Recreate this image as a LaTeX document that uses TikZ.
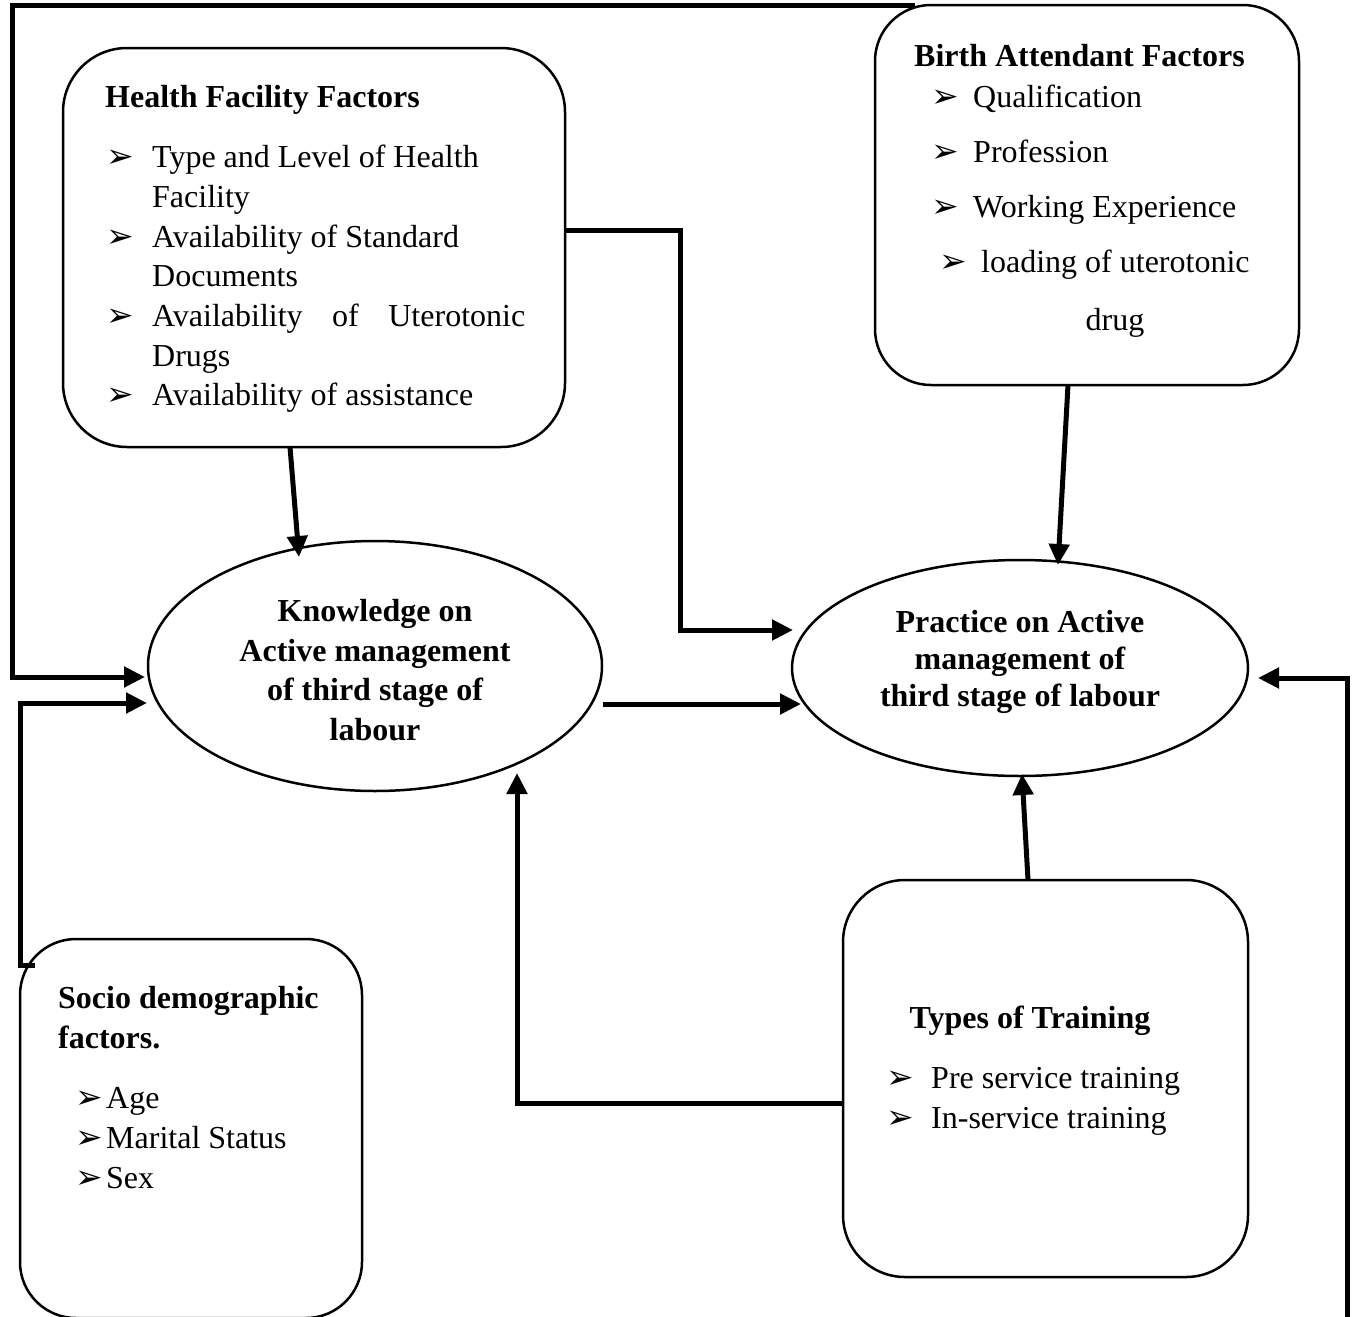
\documentclass[tikz,border=0pt]{standalone}
\usepackage{fontspec}
\setmainfont{Liberation Serif}
\newfontfamily\symfont{DejaVu Sans}
\usetikzlibrary{shapes.geometric,arrows.meta,calc}
\tikzset{
  box/.style={draw, line width=2.5pt, inner sep=0pt, outer sep=0pt, rounded corners=#1},
  box/.default=60pt,
  ell/.style={draw, ellipse, line width=2.5pt, inner sep=0pt, outer sep=0pt},
  conn/.style={line width=5pt, -{Triangle[length=21pt,width=20pt]}},
  txt/.style={anchor=base west, inner sep=0pt, font=\fontsize{32}{40}\selectfont},
  ttl/.style={txt, font=\fontsize{32}{40}\selectfont\bfseries},
  ctr/.style={anchor=base, inner sep=0pt, font=\fontsize{32}{40}\selectfont\bfseries},
  bul/.style={anchor=base west, inner sep=0pt, font=\symfont\bfseries\fontsize{33}{33}\selectfont},
}
\begin{document}
\begin{tikzpicture}[x=1pt,y=-1pt]
\clip (0,0) rectangle (1352,1317);
\fill[white] (0,0) rectangle (1352,1317);

% boxes and ellipses
\node[box=64pt, minimum width=502pt, minimum height=399pt] (hf) at (314,247.5) {};
\node[box=56pt, minimum width=424pt, minimum height=380pt] (ba) at (1087,195) {};
\node[ell, minimum width=454pt, minimum height=250pt] (kn) at (375,666) {};
\node[ell, minimum width=456pt, minimum height=216pt] (pr) at (1020,668) {};
\node[box=62pt, minimum width=405pt, minimum height=397pt] (tr) at (1045.5,1078.5) {};
\node[box=56pt, minimum width=342pt, minimum height=379pt] (so) at (191,1128.5) {};

% Health Facility Factors
\node[ttl] (hft) at (105,107) {Health Facility Factors};
\node[bul] (hfb1) at (106,167) {➢};
\node[txt] (hf1) at (152,167) {Type and Level of Health};
\node[txt] (hf1b) at (152,207) {Facility};
\node[bul] (hfb2) at (106,247) {➢};
\node[txt] (hf2) at (152,247) {Availability of Standard};
\node[txt] (hf2b) at (152,286) {Documents};
\node[bul] (hfb3) at (106,326) {➢};
\node[txt] (hf3) at (152,326) {\makebox[373pt][s]{Availability of Uterotonic}};
\node[txt] (hf3b) at (152,366) {Drugs};
\node[bul] (hfb4) at (106,405) {➢};
\node[txt] (hf4) at (152,405) {Availability of assistance};

% Birth Attendant Factors
\node[ttl] (bat) at (914,66) {Birth Attendant Factors};
\node[bul] (bab1) at (931,107) {➢};
\node[txt] (ba1) at (973,107) {Qualification};
\node[bul] (bab2) at (931,162) {➢};
\node[txt] (ba2) at (973,162) {Profession};
\node[bul] (bab3) at (931,217) {➢};
\node[txt] (ba3) at (973,217) {Working Experience};
\node[bul] (bab4) at (939,272) {➢};
\node[txt] (ba4) at (981,272) {loading of uterotonic};
\node[txt, anchor=base] (ba4b) at (1115,330) {drug};

% Knowledge ellipse text
\node[ctr] (kn1) at (375,621) {Knowledge on};
\node[ctr] (kn2) at (375,661) {Active management};
\node[ctr] (kn3) at (375,700) {of third stage of};
\node[ctr] (kn4) at (375,740) {labour};

% Practice ellipse text
\node[ctr] (pr1) at (1020,632) {Practice on Active};
\node[ctr] (pr2) at (1020,669) {management of};
\node[ctr] (pr3) at (1020,706) {third stage of labour};

% Types of Training
\node[ctr] (trt) at (1030,1028) {Types of Training};
\node[bul] (trb1) at (886,1088) {➢};
\node[txt] (tr1) at (931,1088) {Pre service training};
\node[bul] (trb2) at (886,1128) {➢};
\node[txt] (tr2) at (931,1128) {In-service training};

% Socio demographic
\node[ttl] (sot1) at (58,1008) {Socio demographic};
\node[ttl] (sot2) at (58,1048) {factors.};
\node[bul] (sob1) at (75,1108) {➢};
\node[txt] (so1) at (106,1108) {Age};
\node[bul] (sob2) at (75,1148) {➢};
\node[txt] (so2) at (106,1148) {Marital Status};
\node[bul] (sob3) at (75,1188) {➢};
\node[txt] (so3) at (106,1188) {Sex};

% connectors
\draw[conn] ($(ba.north west)+(40,0)$) -| ($(kn.west)+(-136,11)$) -- ($(kn.west)+(-3,11)$);
\draw[conn] ($(so.north west)+(15,26)$) -- ($(so.north west)+(0,26)$) |- ($(kn.west)+(-1,37)$);
\draw[conn] ($(hf.south)+(-24,0)$) -- ($(kn.north)+(-76,16)$);
\draw[conn] ($(hf.east)+(0,-17.5)$) -| ($(pr.west)+(-112,-38)$) -- ($(pr.west)+(1,-38)$);
\draw[conn] ($(kn.east)+(1,38)$) -- ($(pr.west)+(9,36)$);
\draw[conn] ($(ba.south)+(-19,0)$) -- ($(pr.north)+(38,5)$);
\draw[conn] ($(tr.north)+(-17.5,0)$) -- ($(pr.south)+(2,-2)$);
\draw[conn] ($(tr.west)+(0,24.5)$) -| ($(kn.south)+(142,-18)$);
\coordinate (br) at (1347,1325);
\draw[conn] (br) |- ($(pr.east)+(10,10)$);
\end{tikzpicture}
\end{document}
